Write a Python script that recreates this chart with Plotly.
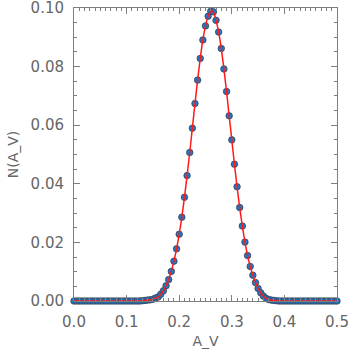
import plotly.graph_objects as go

# A_V bins (step 0.005 from 0 to 0.5)
a_v = [round(0.005 * i, 3) for i in range(101)]

# N(A_V) values
n_av = ([0.0] * 26 +
        [0.0001, 0.0002, 0.0003, 0.0004, 0.0006, 0.0010, 0.0014, 0.0023,
         0.0035, 0.0052, 0.0073, 0.0101, 0.0136, 0.0178, 0.0228, 0.0286,
         0.0354, 0.0428, 0.0507, 0.0590, 0.0674, 0.0754, 0.0828, 0.0891,
         0.0939, 0.0972, 0.0989, 0.0987, 0.0958, 0.0918, 0.0862, 0.0792,
         0.0715, 0.0632, 0.0550, 0.0467, 0.0390, 0.0319, 0.0256, 0.0201,
         0.0155, 0.0118, 0.0088, 0.0063, 0.0043, 0.0028, 0.0017, 0.0009,
         0.0005, 0.0003, 0.0002, 0.0001] +
        [0.0] * 23)

x_ticks = [0.0, 0.1, 0.2, 0.3, 0.4, 0.5]
y_ticks = [0.00, 0.02, 0.04, 0.06, 0.08, 0.10]

grigio = '#7f7f7f'
testo = '#666666'

fig = go.Figure()

fig.add_trace(go.Scatter(
    x=a_v, y=n_av,
    mode='markers',
    marker=dict(size=6.5, color='#1f77c8', line=dict(color='#3c4450', width=0.8)),
    cliponaxis=False,
    showlegend=False
))

fig.add_trace(go.Scatter(
    x=a_v, y=n_av,
    mode='lines',
    line=dict(color='#ff1a1a', width=1.5, shape='spline', smoothing=0.6),
    cliponaxis=False,
    showlegend=False
))

asse = dict(
    showgrid=False, zeroline=False, automargin=False,
    showline=True, linecolor=grigio, linewidth=1, mirror='allticks',
    ticks='inside', ticklen=6, tickcolor=grigio, tickwidth=1,
    ticklabeloverflow='allow',
    tickfont=dict(family='DejaVu Sans', size=15, color=testo),
)

fig.update_layout(
    width=352, height=350,
    margin=dict(l=74, r=15, t=8, b=49),
    paper_bgcolor='white', plot_bgcolor='white',
    xaxis=dict(
        asse, range=[0, 0.5], tickvals=x_ticks, tickformat='.1f',
        ticklabelstandoff=7,
        minor=dict(dtick=0.01, ticks='inside', ticklen=3, tickcolor=grigio),
        title=dict(text='A_V', font=dict(family='DejaVu Sans', size=14, color=testo), standoff=6),
    ),
    yaxis=dict(
        asse, range=[0, 0.10001], tickvals=y_ticks, tickformat='.2f',
        ticklabelstandoff=6,
        minor=dict(dtick=0.005, ticks='inside', ticklen=3, tickcolor=grigio),
        title=dict(text='N(A_V)', font=dict(family='DejaVu Sans', size=14, color=testo), standoff=8),
    ),
)

# pagina senza margine del body, cosi' il grafico parte da (0, 0)
fig.write_html("out.html", config={'displayModeBar': False},
               post_script="document.body.style.margin='0px';")
